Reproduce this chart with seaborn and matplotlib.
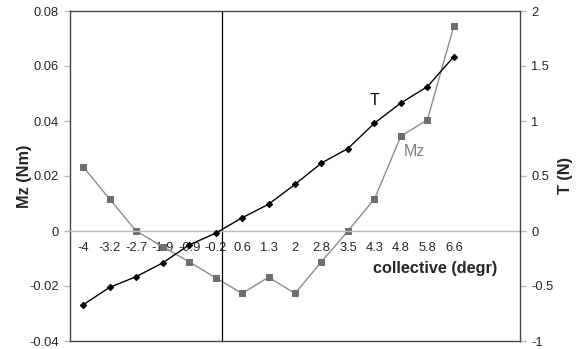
import numpy as np
import pandas as pd
import matplotlib
matplotlib.use("Agg")
import matplotlib.pyplot as plt
import seaborn as sns

sns.set_style("white")
plt.rcParams['font.family'] = ['Liberation Sans', 'DejaVu Sans']

collective = ["-4", "-3.2", "-2.7", "-1.9", "-0.9", "-0.2", "0.6", "1.3",
              "2", "2.8", "3.5", "4.3", "4.8", "5.8", "6.6"]
mz = [0.0233, 0.0116, 0.0, -0.0057, -0.0112, -0.0170, -0.0227, -0.0168,
      -0.0227, -0.0112, 0.0, 0.0116, 0.0345, 0.0404, 0.0745]
thrust = [-0.67, -0.512, -0.415, -0.29, -0.127, -0.02, 0.12, 0.243,
          0.424, 0.618, 0.75, 0.98, 1.164, 1.312, 1.585]

df = pd.DataFrame({"pos": np.arange(len(collective)), "Mz": mz, "T": thrust})

frame_col = "#444444"
tick_col = "#bbbbbb"
tick_fs = 9.3
label_fs = 11.7

fig = plt.figure(figsize=(5.87, 3.49), dpi=100)
ax = fig.add_axes([70 / 587, 8 / 349, 450 / 587, 330 / 349])
ax2 = ax.twinx()

sns.lineplot(data=df, x="pos", y="Mz", ax=ax, color="#8c8c8c", lw=1.0,
             marker="s", markersize=4.5, markerfacecolor="#6e6e6e",
             markeredgecolor="#6e6e6e")
sns.lineplot(data=df, x="pos", y="T", ax=ax2, color="black", lw=1.0,
             marker="D", markersize=3.2, markerfacecolor="black",
             markeredgecolor="black")

ax.set_xlim(-0.5, 16.5)
ax.set_ylim(-0.04, 0.08)
ax2.set_ylim(-1, 2)

# category axis crossing at zero
ax.spines['bottom'].set_position(('data', 0))
ax.spines['bottom'].set_color(tick_col)
ax.spines['bottom'].set_linewidth(1.0)
ax.set_xticks(np.arange(-0.5, 17, 1))
ax.set_xticklabels([])
ax.set_xticks(np.arange(len(collective)), minor=True)
ax.set_xticklabels(collective, minor=True, fontsize=tick_fs)
ax.tick_params(axis='x', which='major', direction='inout', length=7,
               color=tick_col, width=1.0)
ax.tick_params(axis='x', which='minor', length=0, pad=8)

ax.set_yticks([-0.04, -0.02, 0, 0.02, 0.04, 0.06, 0.08])
ax.set_yticklabels(["-0.04", "-0.02", "0", "0.02", "0.04", "0.06", "0.08"])
ax2.set_yticks([-1, -0.5, 0, 0.5, 1, 1.5, 2])
ax2.set_yticklabels(["-1", "-0.5", "0", "0.5", "1", "1.5", "2"])
for a in (ax, ax2):
    a.tick_params(axis='y', direction='out', length=4, color=tick_col,
                  labelsize=tick_fs, pad=4, width=1.0)

for side in ['left', 'top']:
    ax.spines[side].set_color(frame_col)
    ax.spines[side].set_linewidth(1.0)
ax.spines['right'].set_visible(False)
ax2.spines['left'].set_visible(False)
ax2.spines['top'].set_visible(False)
for side in ['right', 'bottom']:
    ax2.spines[side].set_visible(True)
    ax2.spines[side].set_color(frame_col)
    ax2.spines[side].set_linewidth(1.0)

ax.axvline(5.25, color="black", lw=0.9)

ax.set_xlabel("")
ax.set_ylabel("Mz (Nm)", fontsize=label_fs, fontweight="bold")
ax.yaxis.set_label_coords(-0.085, 0.5)
ax2.set_ylabel("T (N)", fontsize=label_fs, fontweight="bold", rotation=90)
ax2.yaxis.set_label_coords(1.085, 0.5)

ax.text(13.3, -0.0135, "collective (degr)", fontsize=label_fs,
        fontweight="bold", ha="center", va="center")
ax2.text(11.0, 1.19, "T", fontsize=11.5, color="black", ha="center",
         va="center")
ax2.text(12.5, 0.72, "Mz", fontsize=11.5, color="#808080", ha="center",
         va="center")

fig.savefig("out.png", dpi=100)
